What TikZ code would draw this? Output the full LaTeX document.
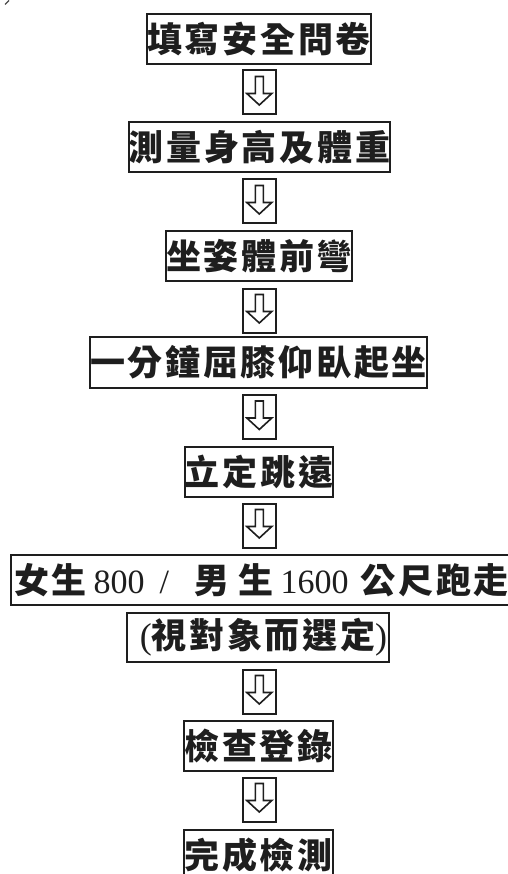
\documentclass[tikz,border=0pt]{standalone}
\usepackage{fontspec}
\setmainfont{Liberation Serif}
\newfontfamily\cjk[LetterSpace=7.7]{Noto Sans CJK TC}
\definecolor{ink}{HTML}{1E1E1E}
\tikzset{
  stepbox/.style={draw=ink, text=ink, line width=2pt, inner xsep=0pt, inner ysep=0pt,
    minimum height=50pt, font=\cjk\bfseries\fontsize{35}{35}\selectfont},
  arrbox/.style={draw=ink, line width=2pt, minimum width=33.5pt, minimum height=44pt, inner sep=0pt,
    path picture={\draw[ink, line width=1.6pt, line join=miter, shift={(path picture bounding box.center)}]
      (-4,-16) -- (4,-16) -- (4,1) -- (12.5,1) -- (0,12.5) -- (-12.5,1) -- (-4,1) -- cycle;}}
}
\newcommand{\latn}[1]{{\rmfamily\mdseries\fontsize{34}{34}\selectfont #1}}
\newcommand{\parn}[1]{{\rmfamily\mdseries\fontsize{36}{36}\selectfont #1}}
\begin{document}
\begin{tikzpicture}[x=1pt,y=-1pt]
\useasboundingbox (0,0) rectangle (507,874);
\fill[white] (0,0) rectangle (507,874);
% stray mark at top-left
\draw[ink!80, line width=1.2pt] (9,0.5) -- (5,4.5);

\node[stepbox] (s1) at (259,39) {填寫安全問卷};
\node[arrbox] (a1) at (259.3,92.5) {};
\node[stepbox] (s2) at (259.5,147) {測量身高及體重};
\node[arrbox] (a2) at (259.3,201.5) {};
\node[stepbox] (s3) at (259,256) {坐姿體前彎};
\node[arrbox] (a3) at (259.3,310.5) {};
\node[stepbox, minimum height=51pt] (s4) at (258.5,362.5) {一分鐘屈膝仰臥起坐};
\node[arrbox] (a4) at (259.3,417) {};
\node[stepbox] (s5) at (259,472) {立定跳遠};
\node[arrbox] (a5) at (259.3,525.5) {};
\node[stepbox, text width=506pt, align=left] (s6) at (264,580)
  {\hspace*{3pt}女生\hspace*{7pt}\latn{800}\hspace*{15pt}\latn{/}\hspace*{25pt}男\hspace*{9pt}生\hspace*{7.5pt}\latn{1600}\hspace*{12pt}公尺跑走};
\node[stepbox, minimum width=262pt, minimum height=49pt] (s7) at (258,637.5)
  {\hspace*{11pt}\parn{(}視對象而選定\parn{)}};
\node[arrbox] (a6) at (259.3,691.5) {};
\node[stepbox] (s8) at (258.5,746) {檢查登錄};
\node[arrbox] (a7) at (259.3,799.5) {};
\node[stepbox] (s9) at (258.5,855) {完成檢測};
\end{tikzpicture}
\end{document}
